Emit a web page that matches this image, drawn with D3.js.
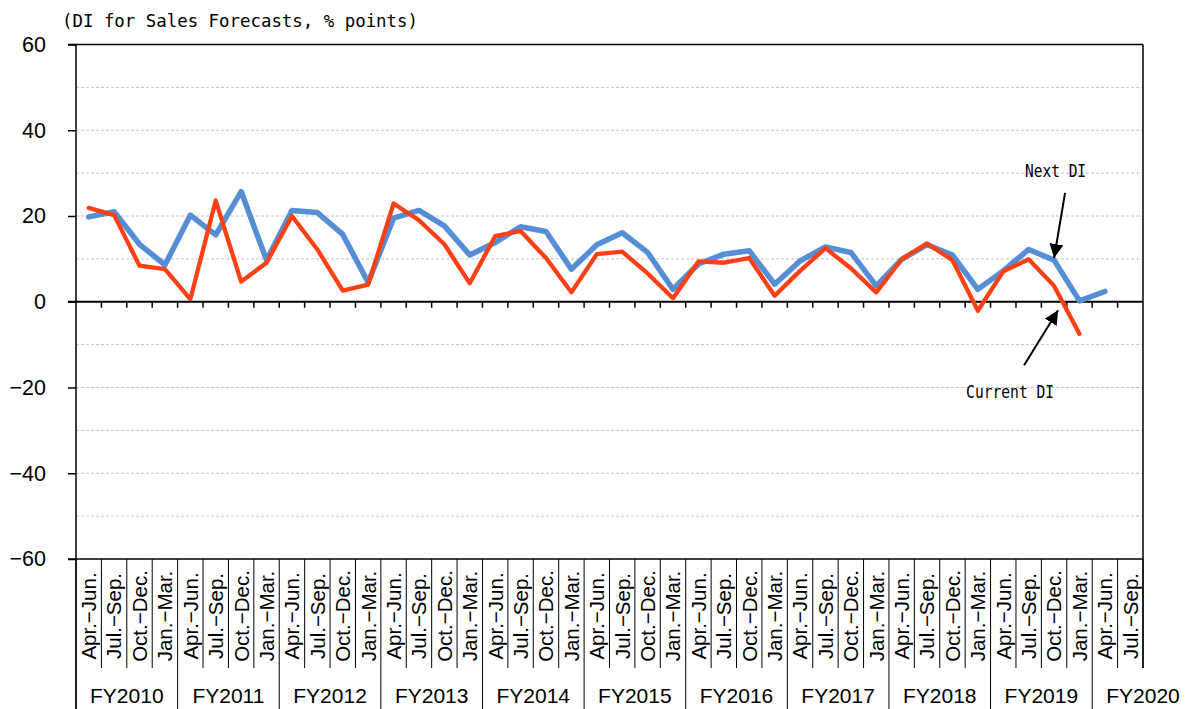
<!DOCTYPE html>
<html>
<head>
<meta charset="utf-8">
<script src="https://cdn.jsdelivr.net/npm/d3@7"></script>
<style>
  body { margin: 0; background: #fff; }
  svg { display: block; }
</style>
</head>
<body>
<script>
// Categories
const fiscalYears = ["FY2010", "FY2011", "FY2012", "FY2013", "FY2014", "FY2015",
                     "FY2016", "FY2017", "FY2018", "FY2019", "FY2020"];
const quarterNames = ["Apr.\u2212Jun.", "Jul.\u2212Sep.", "Oct.\u2212Dec.", "Jan.\u2212Mar."];
const quarters = [];
fiscalYears.forEach((fy, i) => {
    const n = fy === "FY2020" ? 2 : 4;
    for (let q = 0; q < n; q++) quarters.push(quarterNames[q]);
});

// Series (DI, % points)
const currentDI = [21.9, 20.2, 8.4, 7.6, 0.6, 23.6, 4.7, 9.1, 20.0, 12.2, 2.6, 4.0,
                   22.9, 19.0, 13.4, 4.3, 15.3, 16.5, 10.2, 2.2, 11.1, 11.7, 6.6, 0.8,
                   9.4, 9.1, 10.2, 1.4, 7.2, 12.5, 7.8, 2.2, 9.9, 13.6, 9.7, -2.1,
                   7.1, 9.9, 3.7, -7.5];
const nextDI = [19.8, 21.0, 13.4, 8.6, 20.2, 15.6, 25.7, 9.7, 21.3, 20.8, 15.7, 4.5,
                19.5, 21.3, 17.7, 10.9, 13.8, 17.5, 16.4, 7.6, 13.3, 16.1, 11.5, 2.9,
                8.8, 11.1, 11.9, 4.1, 9.5, 12.8, 11.5, 3.7, 9.9, 13.3, 10.9, 2.9,
                7.2, 12.2, 9.7, 0.2, 2.4];

// Y ticks
const yTicks = [60, 40, 20, 0, -20, -40, -60];
const yGrid = [50, 30, 10, -10, -30, -50, 40, 20, -20, -40];

const width = 1192;
const height = 709;
const plotLeft = 76, plotRight = 1143, plotTop = 44.5, plotBottom = 559;
const labelBottom = 668;

const svg = d3.select("body")
    .append("svg")
    .attr("width", width)
    .attr("height", height);

const x = d3.scaleBand()
    .domain(d3.range(quarters.length))
    .range([plotLeft, plotRight])
    .padding(0);

const y = d3.scaleLinear()
    .domain([-60, 60])
    .range([plotBottom, plotTop]);

const bw = x.bandwidth();

// Gridlines
svg.append("g")
    .selectAll("line")
    .data(yGrid)
    .join("line")
    .attr("x1", plotLeft).attr("x2", plotRight)
    .attr("y1", d => y(d)).attr("y2", d => y(d))
    .attr("stroke", "#c4c4c4")
    .attr("stroke-width", 1)
    .attr("stroke-dasharray", "3,2");

// Y axis
const yAxis = svg.append("g")
    .attr("transform", `translate(${plotLeft},0)`)
    .call(d3.axisLeft(y).tickValues(yTicks).tickSize(8).tickPadding(22)
        .tickFormat(d => d < 0 ? "\u2212" + Math.abs(d) : d));
yAxis.select(".domain").remove();
yAxis.selectAll(".tick line").attr("stroke", "#000").attr("stroke-width", 1.5);
yAxis.selectAll(".tick text")
    .attr("font-family", "Liberation Sans, Arial, sans-serif")
    .attr("font-size", "21.5px")
    .attr("fill", "#000");

// Frame lines
const frame = svg.append("g").attr("stroke", "#000").attr("stroke-width", 1.5);
frame.append("line").attr("x1", plotLeft).attr("x2", plotLeft).attr("y1", plotTop).attr("y2", height);
frame.append("line").attr("x1", plotRight).attr("x2", plotRight).attr("y1", plotTop).attr("y2", labelBottom);
frame.append("line").attr("x1", plotLeft - 8).attr("x2", plotRight).attr("y1", plotTop).attr("y2", plotTop);
frame.append("line").attr("x1", plotLeft - 8).attr("x2", plotRight).attr("y1", plotBottom).attr("y2", plotBottom);

// Zero line with ticks
frame.append("line").attr("x1", plotLeft - 8).attr("x2", plotRight).attr("y1", y(0)).attr("y2", y(0)).attr("stroke-width", 2);
svg.append("g")
    .selectAll("line")
    .data(d3.range(1, quarters.length))
    .join("line")
    .attr("x1", d => plotLeft + d * bw).attr("x2", d => plotLeft + d * bw)
    .attr("y1", y(0)).attr("y2", y(0) + 6)
    .attr("stroke", "#000").attr("stroke-width", 1.5);

// Category separators
svg.append("g")
    .selectAll("line")
    .data(d3.range(0, quarters.length + 1))
    .join("line")
    .attr("x1", d => plotLeft + d * bw).attr("x2", d => plotLeft + d * bw)
    .attr("y1", plotBottom)
    .attr("y2", d => (d % 4 === 0 && d < quarters.length) ? height : labelBottom)
    .attr("stroke", "#000").attr("stroke-width", 1);

// Quarter labels (rotated)
svg.append("g")
    .selectAll("text")
    .data(quarters)
    .join("text")
    .attr("transform", (d, i) => `translate(${x(i) + bw / 2},616) rotate(-90)`)
    .attr("text-anchor", "middle")
    .attr("dy", "0.36em")
    .attr("font-family", "Liberation Sans, Arial, sans-serif")
    .attr("font-size", "20.5px")
    .text(d => d);

// Fiscal year labels
svg.append("g")
    .selectAll("text")
    .data(fiscalYears)
    .join("text")
    .attr("x", (d, i) => plotLeft + i * 4 * bw + 2 * bw)
    .attr("y", 703)
    .attr("text-anchor", "middle")
    .attr("font-family", "Liberation Sans, Arial, sans-serif")
    .attr("font-size", "21px")
    .text(d => d);

// Lines
const line = d3.line()
    .x((d, i) => x(i) + bw / 2)
    .y(d => y(d));

svg.append("path")
    .datum(nextDI)
    .attr("fill", "none")
    .attr("stroke", "#558ed5")
    .attr("stroke-width", 5.5)
    .attr("stroke-linejoin", "round")
    .attr("stroke-linecap", "round")
    .attr("d", line);

svg.append("path")
    .datum(currentDI)
    .attr("fill", "none")
    .attr("stroke", "#ff3f14")
    .attr("stroke-width", 4.3)
    .attr("stroke-linejoin", "round")
    .attr("stroke-linecap", "round")
    .attr("d", line);

// Title (narrow monospace look)
svg.append("text")
    .attr("x", 62)
    .attr("y", 27)
    .attr("font-family", "DejaVu Sans Mono, monospace")
    .attr("font-size", "18.5px")
    .attr("textLength", 356)
    .attr("lengthAdjust", "spacingAndGlyphs")
    .text("(DI for Sales Forecasts, % points)");

// Annotations
svg.append("defs").append("marker")
    .attr("id", "arrow")
    .attr("viewBox", "0 0 10 10")
    .attr("refX", 10).attr("refY", 5)
    .attr("markerWidth", 14).attr("markerHeight", 14)
    .attr("markerUnits", "userSpaceOnUse")
    .attr("orient", "auto")
    .append("path")
    .attr("d", "M0,0 L10,5 L0,10 Z")
    .attr("fill", "#000");

const i38 = x(38) + bw / 2;
svg.append("line")
    .attr("x1", i38 + 11).attr("y1", y(25.4))
    .attr("x2", i38).attr("y2", y(10.2))
    .attr("stroke", "#000").attr("stroke-width", 2)
    .attr("marker-end", "url(#arrow)");
svg.append("line")
    .attr("x1", i38 - 30).attr("y1", y(-14.8))
    .attr("x2", i38 + 4).attr("y2", y(-2))
    .attr("stroke", "#000").attr("stroke-width", 2)
    .attr("marker-end", "url(#arrow)");

svg.append("text")
    .attr("x", i38 - 29).attr("y", y(29.0))
    .attr("font-family", "DejaVu Sans Mono, monospace")
    .attr("font-size", "17.4px")
    .attr("textLength", 61)
    .attr("lengthAdjust", "spacingAndGlyphs")
    .text("Next DI");
svg.append("text")
    .attr("x", i38 - 88).attr("y", y(-22.5))
    .attr("font-family", "DejaVu Sans Mono, monospace")
    .attr("font-size", "17.4px")
    .attr("textLength", 88)
    .attr("lengthAdjust", "spacingAndGlyphs")
    .text("Current DI");
</script>
</body>
</html>
